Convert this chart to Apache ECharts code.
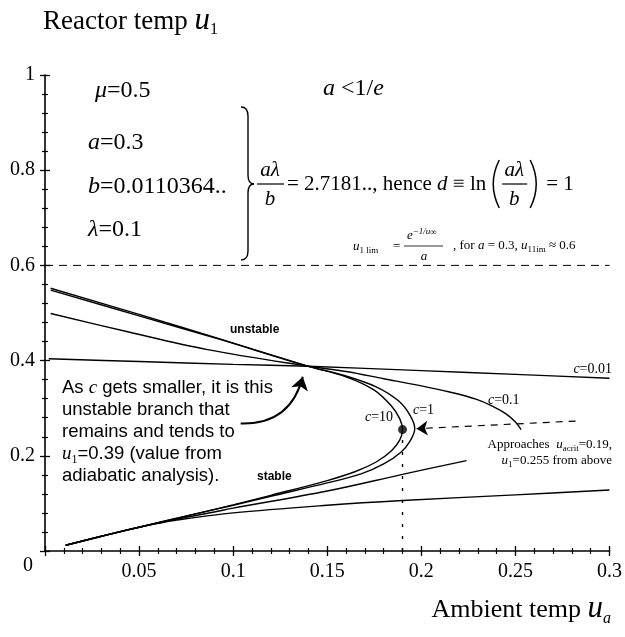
<!DOCTYPE html>
<html><head><meta charset="utf-8">
<script src="https://cdn.jsdelivr.net/npm/echarts@6/dist/echarts.min.js"></script>
<style>html,body{margin:0;padding:0;background:#fff}#c{width:625px;height:637px}</style>
</head><body><div id="c"></div>
<script>
// ---- data ----
const xTickStep = 0.05;
const yTickStep = 0.2;
const c001Upper = [[0.002,0.404],[0.05,0.398],[0.1,0.392],[0.14,0.388],[0.2,0.379],[0.25,0.371],[0.3,0.363]];
const c001Lower = [[0.011,0.012],[0.03,0.031],[0.05,0.05],[0.06,0.058],[0.07,0.065],[0.1,0.08],[0.15,0.096],[0.19,0.106],[0.25,0.118],[0.3,0.128]];
const c01Upper = [[0.003,0.499],[0.0445,0.46],[0.0864,0.423],[0.14,0.388],[0.16,0.377],[0.18,0.362],[0.2,0.347],[0.215,0.334],[0.229,0.319],[0.238,0.304],[0.245,0.288],[0.25,0.271],[0.253,0.255]];
const c01Lower = [[0.011,0.012],[0.03,0.031],[0.05,0.05],[0.07,0.067],[0.09,0.082],[0.1,0.09],[0.15,0.126],[0.19,0.161],[0.224,0.19]];
const c10Curve = [[0.003,0.552],[0.05,0.497],[0.0925,0.446],[0.14,0.388],[0.16,0.366],[0.175,0.338],[0.184,0.305],[0.1885,0.278],[0.19,0.255],[0.1885,0.233],[0.184,0.21],[0.176,0.187],[0.165,0.167],[0.15,0.148],[0.12,0.117],[0.1,0.097],[0.08,0.078],[0.05,0.05],[0.03,0.031],[0.011,0.012]];
const c1Curve = [[0.003,0.548],[0.05,0.494],[0.0925,0.445],[0.14,0.388],[0.158,0.37],[0.176,0.345],[0.188,0.315],[0.194,0.285],[0.1965,0.257],[0.194,0.231],[0.189,0.207],[0.18,0.183],[0.168,0.162],[0.15,0.143],[0.12,0.115],[0.1,0.096],[0.08,0.078],[0.05,0.05],[0.03,0.031],[0.011,0.012]];
const limitLine = [[0,0.6],[0.3,0.6]];
const critLine = [[0.19,0],[0.19,0.25]];
const critPoint = [[0.19,0.255]];
const approachArrow = [[0.282,0.273],[0.1975,0.257]];
const noteArrow = [[0.104,0.268],[0.137,0.366]];

// ---- chart ----
const chart = echarts.init(document.getElementById('c'), null, {renderer:'canvas'});
const SERIF = '"Liberation Serif", "Times New Roman", serif';
const SANS = '"Liberation Sans", Arial, sans-serif';
const cv = document.createElement('canvas').getContext('2d');
function W(t,f){cv.font=f;return cv.measureText(t).width;}
const G = [];
function T(x,y,t,f,align){G.push({type:'text',x:x,y:y,z:100,style:{text:t,font:f,fill:'#000',align:align||'left',verticalAlign:'middle',textAlign:align||'left',textVerticalAlign:'middle'}});}
function seq(x,y,parts,alignRight){
  let tot=0; parts.forEach(p=>tot+=W(p[0],p[1]));
  let cx = alignRight? x-tot : x;
  parts.forEach(p=>{T(cx,y+(p[2]||0),p[0],p[1]); cx+=W(p[0],p[1]);});
  return cx;
}
function L(x1,y1,x2,y2,w){G.push({type:'line',z:100,shape:{x1:x1,y1:y1,x2:x2,y2:y2},style:{stroke:'#000',lineWidth:w||1.3}});}
function Q(x1,y1,cx,cy,x2,y2,w){G.push({type:'bezierCurve',z:100,shape:{x1:x1,y1:y1,cpx1:cx,cpy1:cy,x2:x2,y2:y2},style:{stroke:'#000',fill:null,lineWidth:w||1.3}});}

// titles
seq(43,22,[['Reactor temp ','27px '+SERIF],['u','italic 31px '+SERIF,-1],['1','16px '+SERIF,8]]);
seq(611,610,[['Ambient temp ','26px '+SERIF],['u','italic 31px '+SERIF,-1],['a','italic 16px '+SERIF,9]],true);
T(28,566,'0','20px '+SERIF,'center');
// parameters
const F24='24px '+SERIF, I24='italic 24px '+SERIF;
seq(95,91,[['μ',I24],['=0.5',F24]]);
seq(323,89,[['a',I24],[' <1/',F24],['e',I24]]);
seq(88,143,[['a',I24],['=0.3',F24]]);
seq(88,187,[['b',I24],['=0.0110364..',F24]]);
seq(88,230,[['λ',I24],['=0.1',F24]]);
// brace
Q(241,107,248,107,248,116,1.4); L(248,116,248,175,1.4); Q(248,175,248,184,254,184,1.4);
Q(254,184,248,184,248,193,1.4); L(248,193,248,251,1.4); Q(248,251,248,260,241,260,1.4);
// fraction a lambda / b
const I20='italic 21px '+SERIF, F20='21px '+SERIF;
T(270,170,'aλ',I20,'center'); L(257,184,284,184,1.2); T(270,199,'b',I20,'center');
let xe = seq(287,184,[['= 2.7181.., hence ',F20],['d',I20],[' ≡ ln',F20]]);
Q(xe+13,160,xe+1,184,xe+13,208,1.5);
T(xe+28,170,'aλ',I20,'center'); L(xe+16,184,xe+41,184,1.2); T(xe+28,199,'b',I20,'center');
Q(xe+44,160,xe+56,184,xe+44,208,1.5);
T(xe+60,184,'= 1',F20);
// small formula above dashed line
const S13='13px '+SERIF, SI13='italic 13px '+SERIF, S9='9px '+SERIF, SI9='italic 9px '+SERIF;
seq(353,247,[['u',SI13],['1 lim',S9,4]]);
T(393,247,'=',S13);
seq(407,236,[['e',SI13],['−1/u',SI9,-4],['∞',S9,-3]]);
L(404,246,443,246,0.8);
T(424,257,'a',SI13,'center');
seq(453,246,[[', for ',S13],['a',SI13],[' = 0.3, ',S13],['u',SI13],['11im',S9,4],[' ≈ 0.6',S13]]);
// labels
T(230,330,'unstable','bold 12px '+SANS);
T(257,477,'stable','bold 12px '+SANS);
const C14='italic 14px '+SERIF, N14='14px '+SERIF;
seq(612,369,[['c',C14],['=0.01',N14]],true);
seq(488,400,[['c',C14],['=0.1',N14]]);
seq(365,417,[['c',C14],['=10',N14]]);
seq(413,410,[['c',C14],['=1',N14]]);
seq(612,445,[['Approaches  ',S13],['u',SI13],['acrit',S9,4],['=0.19,',S13]],true);
seq(612,461,[['u',SI13],['1',S9,4],['=0.255 from above',S13]],true);
// paragraph
const A18='18.5px '+SANS, AI18='italic 19px '+SERIF;
seq(62,388,[['As ',A18],['c',AI18],[' gets smaller, it is this',A18]]);
T(62,410,'unstable branch that',A18);
T(62,432,'remains and tends to',A18);
seq(62,454,[['u',AI18],['1','12px '+SERIF,6],['=0.39 (value from',A18]]);
T(62,476,'adiabatic analysis).',A18);

function curve(d,name){return {type:'line',name:name,data:d,showSymbol:false,smooth:0.35,smoothMonotone:'none',lineStyle:{color:'#000',width:1.4},silent:true,z:5};}

const option = {
  animation:false,
  backgroundColor:'#fff',
  grid:{left:45,right:7,top:75,bottom:86,containLabel:false},
  xAxis:[
    {type:'value',min:0,max:0.3,interval:xTickStep,position:'bottom',
     axisLine:{show:true,onZero:false,lineStyle:{color:'#000',width:1.6}},
     axisTick:{show:true,inside:false,length:5,lineStyle:{color:'#000',width:1.3}},
     minorTick:{show:true,splitNumber:5,length:3,lineStyle:{color:'#000',width:1.2}},
     axisLabel:{color:'#000',fontFamily:'Liberation Serif',fontSize:20,margin:11,formatter:v=>v===0?'':String(v)},
     splitLine:{show:false},minorSplitLine:{show:false}},
    {type:'value',min:0,max:0.3,interval:xTickStep,position:'bottom',
     axisLine:{show:false,onZero:false},
     axisTick:{show:true,inside:true,length:5,lineStyle:{color:'#000',width:1.3}},
     minorTick:{show:true,splitNumber:5,length:3,lineStyle:{color:'#000',width:1.2}},
     axisLabel:{show:false},splitLine:{show:false}}
  ],
  yAxis:[
    {type:'value',min:0,max:1,interval:yTickStep,position:'left',
     axisLine:{show:true,onZero:false,lineStyle:{color:'#000',width:1.6}},
     axisTick:{show:true,inside:false,length:5,lineStyle:{color:'#000',width:1.3}},
     minorTick:{show:true,splitNumber:5,length:3,lineStyle:{color:'#000',width:1.2}},
     axisLabel:{color:'#000',fontFamily:'Liberation Serif',fontSize:20,margin:10,formatter:v=>v===0?'':String(v)},
     splitLine:{show:false}},
    {type:'value',min:0,max:1,interval:yTickStep,position:'left',
     axisLine:{show:false,onZero:false},
     axisTick:{show:true,inside:true,length:5,lineStyle:{color:'#000',width:1.3}},
     minorTick:{show:true,splitNumber:5,length:3,lineStyle:{color:'#000',width:1.2}},
     axisLabel:{show:false},splitLine:{show:false}}
  ],
  series:[
    curve(c001Upper,'c=0.01 upper'),
    curve(c001Lower,'c=0.01 lower'),
    curve(c01Upper,'c=0.1 upper'),
    curve(c01Lower,'c=0.1 lower'),
    curve(c10Curve,'c=10'),
    curve(c1Curve,'c=1'),
    {type:'line',data:limitLine,showSymbol:false,lineStyle:{color:'#000',width:1,type:[8,6]},silent:true},
    {type:'line',data:critLine,showSymbol:false,lineStyle:{color:'#000',width:1.4,type:[3,9]},silent:true},
    {type:'scatter',data:critPoint,symbolSize:9,itemStyle:{color:'#000'},silent:true,z:6},
    {type:'lines',coordinateSystem:'cartesian2d',symbol:['none','arrow'],symbolSize:[0,11],
     lineStyle:{color:'#000',opacity:1,width:1.2,type:[7,6]},silent:true,z:6,
     data:[{coords:approachArrow}]},
    {type:'lines',coordinateSystem:'cartesian2d',symbol:['none','arrow'],symbolSize:[0,13],
     lineStyle:{color:'#000',opacity:1,width:2,curveness:-0.4},silent:true,z:6,
     data:[{coords:noteArrow}]}
  ],
  graphic:G
};
chart.setOption(option);
</script></body></html>
